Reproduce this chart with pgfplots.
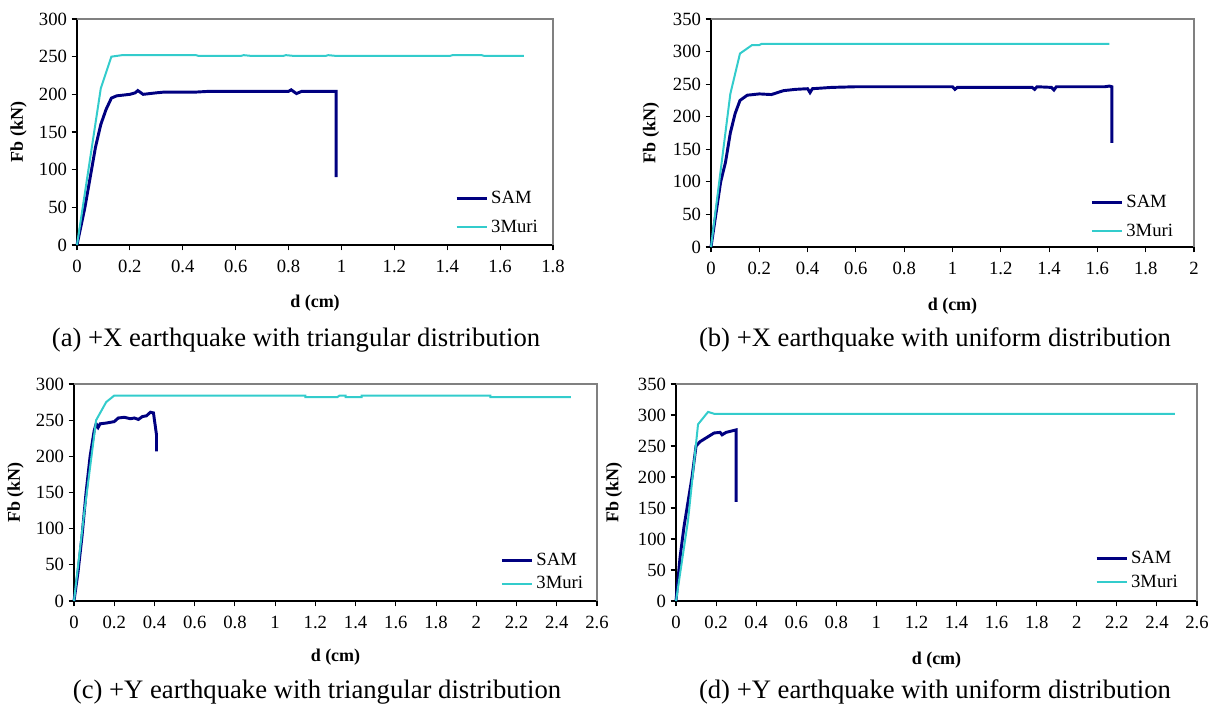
\documentclass[border=0pt]{standalone}
\usepackage{pgfplots}
\pgfplotsset{compat=1.18}
\usepackage{fontspec}
\setmainfont{Liberation Serif}

\definecolor{samblue}{RGB}{0,0,128}
\definecolor{muricyan}{RGB}{51,204,204}

\pgfplotsset{
  panel/.style={
    scale only axis,
    axis lines=left,
    axis line style={-, black, line width=1pt},
    tick align=outside,
    major tick length=4pt,
    tick style={black, line width=0.8pt},
    xtick pos=bottom, ytick pos=left,
    ymin=0,
    /pgf/number format/assume math mode=true,
    ticklabel style={font=\fontsize{14}{16}\selectfont},
    xticklabel style={yshift=-4pt},
    label style={font=\bfseries\fontsize{13.5}{15}\selectfont},
    xlabel={d (cm)}, ylabel={Fb (kN)},
    ylabel style={anchor=center, rotate=0},
    xlabel style={anchor=center},
    legend cell align=left,
    legend style={draw=none, fill=none, font=\fontsize{14}{16}\selectfont,
      anchor=north west, row sep=7pt, inner sep=0pt},
    legend image code/.code={\draw[##1] (0cm,0cm) -- (0.8cm,0cm);},
    clip=false,
    execute at end axis={
      \draw[gray, line width=1.1pt] (rel axis cs:0,1) -- (rel axis cs:1,1) -- (rel axis cs:1,0);
    },
  },
  sam/.style={samblue, line width=2.2pt},
  muri/.style={muricyan, line width=1.5pt},
}

\begin{document}
\begin{tikzpicture}
\useasboundingbox (0,0) rectangle (907.5pt,531pt);

% (a)
\begin{axis}[panel, at={(57.75pt,347.25pt)}, anchor=south west,
  width=357pt, height=169.5pt,
  xmin=0, xmax=1.8, ymax=300,
  xtick={0,0.2,...,1.8}, ytick={0,50,...,300},
  ylabel style={at={(axis description cs:-0.123,0.5)}},
  xlabel style={at={(axis description cs:0.5,-0.257)}},
  legend style={at={(axis description cs:0.794,0.252)}}]
\addplot[sam] coordinates {
  (0,0)(0.03,50)(0.05,90)(0.07,130)(0.09,160)(0.11,180)(0.13,195)(0.15,198)
  (0.2,200)(0.22,202)(0.23,205)(0.25,200)(0.3,202)(0.33,203)(0.45,203)(0.5,204)
  (0.8,204)(0.81,206)(0.83,201)(0.85,204)(0.98,204)(0.98,90)};
\addplot[muri] coordinates {
  (0,0)(0.09,208)(0.13,250)(0.17,252)(0.45,252)(0.46,251)(0.62,251)(0.63,252)
  (0.66,251)(0.78,251)(0.79,252)(0.82,251)(0.94,251)(0.95,252)(0.98,251)
  (1.41,251)(1.42,252)(1.53,252)(1.54,251)(1.69,251)};
\legend{SAM,3Muri}
\end{axis}
\node at (222pt,276pt) {\fontsize{20}{24}\selectfont (a) +X earthquake with triangular distribution};

% (b)
\begin{axis}[panel, at={(533.25pt,345.75pt)}, anchor=south west,
  width=362.25pt, height=171pt,
  xmin=0, xmax=2, ymax=350,
  xtick={0,0.2,...,2}, ytick={0,50,...,350},
  ylabel style={at={(axis description cs:-0.124,0.5)}},
  xlabel style={at={(axis description cs:0.5,-0.259)}},
  legend style={at={(axis description cs:0.785,0.241)}}]
\addplot[sam] coordinates {
  (0,0)(0.02,50)(0.04,100)(0.06,130)(0.08,175)(0.1,205)(0.12,225)(0.15,233)
  (0.2,235)(0.25,234)(0.3,240)(0.35,242)(0.4,243)(0.41,237)(0.42,243)(0.5,245)
  (0.6,246)(1.0,246)(1.01,242)(1.02,245)(1.33,245)(1.34,242)(1.35,246)(1.41,245)
  (1.42,241)(1.43,246)(1.63,246)(1.65,247)(1.66,246)(1.66,160)};
\addplot[muri] coordinates {
  (0,0)(0.08,235)(0.12,297)(0.17,310)(0.2,310)(0.21,312)(1.65,312)};
\legend{SAM,3Muri}
\end{axis}
\node at (701.25pt,276pt) {\fontsize{20}{24}\selectfont (b) +X earthquake with uniform distribution};

% (c)
\begin{axis}[panel, at={(55.5pt,80.25pt)}, anchor=south west,
  width=392.25pt, height=162.75pt,
  xmin=0, xmax=2.6, ymax=300,
  xtick={0,0.2,...,2.6}, ytick={0,50,...,300},
  ylabel style={at={(axis description cs:-0.112,0.5)}},
  xlabel style={at={(axis description cs:0.5,-0.258)}},
  legend style={at={(axis description cs:0.815,0.235)}, row sep=3pt}]
\addplot[sam] coordinates {
  (0,0)(0.02,40)(0.04,90)(0.06,150)(0.08,200)(0.1,235)(0.11,245)(0.12,240)
  (0.13,245)(0.16,246)(0.2,248)(0.22,253)(0.25,254)(0.28,252)(0.3,253)(0.32,251)
  (0.34,255)(0.36,256)(0.38,261)(0.395,260)(0.41,230)(0.41,207)};
\addplot[muri] coordinates {
  (0,0)(0.05,120)(0.11,250)(0.16,275)(0.2,284)(1.15,284)(1.15,282)(1.31,282)
  (1.32,284)(1.35,284)(1.35,282)(1.43,282)(1.43,284)(2.07,284)(2.07,282)(2.47,282)};
\legend{SAM,3Muri}
\end{axis}
\node at (237.75pt,12pt) {\fontsize{20}{24}\selectfont (c) +Y earthquake with triangular distribution};

% (d)
\begin{axis}[panel, at={(507pt,80.25pt)}, anchor=south west,
  width=390.75pt, height=162.75pt,
  xmin=0, xmax=2.6, ymax=350,
  xtick={0,0.2,...,2.6}, ytick={0,50,...,350},
  ylabel style={at={(axis description cs:-0.119,0.5)}},
  xlabel style={at={(axis description cs:0.5,-0.272)}},
  legend style={at={(axis description cs:0.804,0.244)}, row sep=3pt}]
\addplot[sam] coordinates {
  (0,0)(0.02,70)(0.04,120)(0.06,160)(0.08,200)(0.1,250)(0.12,257)(0.15,263)
  (0.19,271)(0.22,272)(0.23,268)(0.25,272)(0.3,276)(0.3,160)};
\addplot[muri] coordinates {
  (0,0)(0.06,130)(0.11,285)(0.16,305)(0.19,302)(2.49,302)};
\legend{SAM,3Muri}
\end{axis}
\node at (701.25pt,12pt) {\fontsize{20}{24}\selectfont (d) +Y earthquake with uniform distribution};
\end{tikzpicture}
\end{document}
